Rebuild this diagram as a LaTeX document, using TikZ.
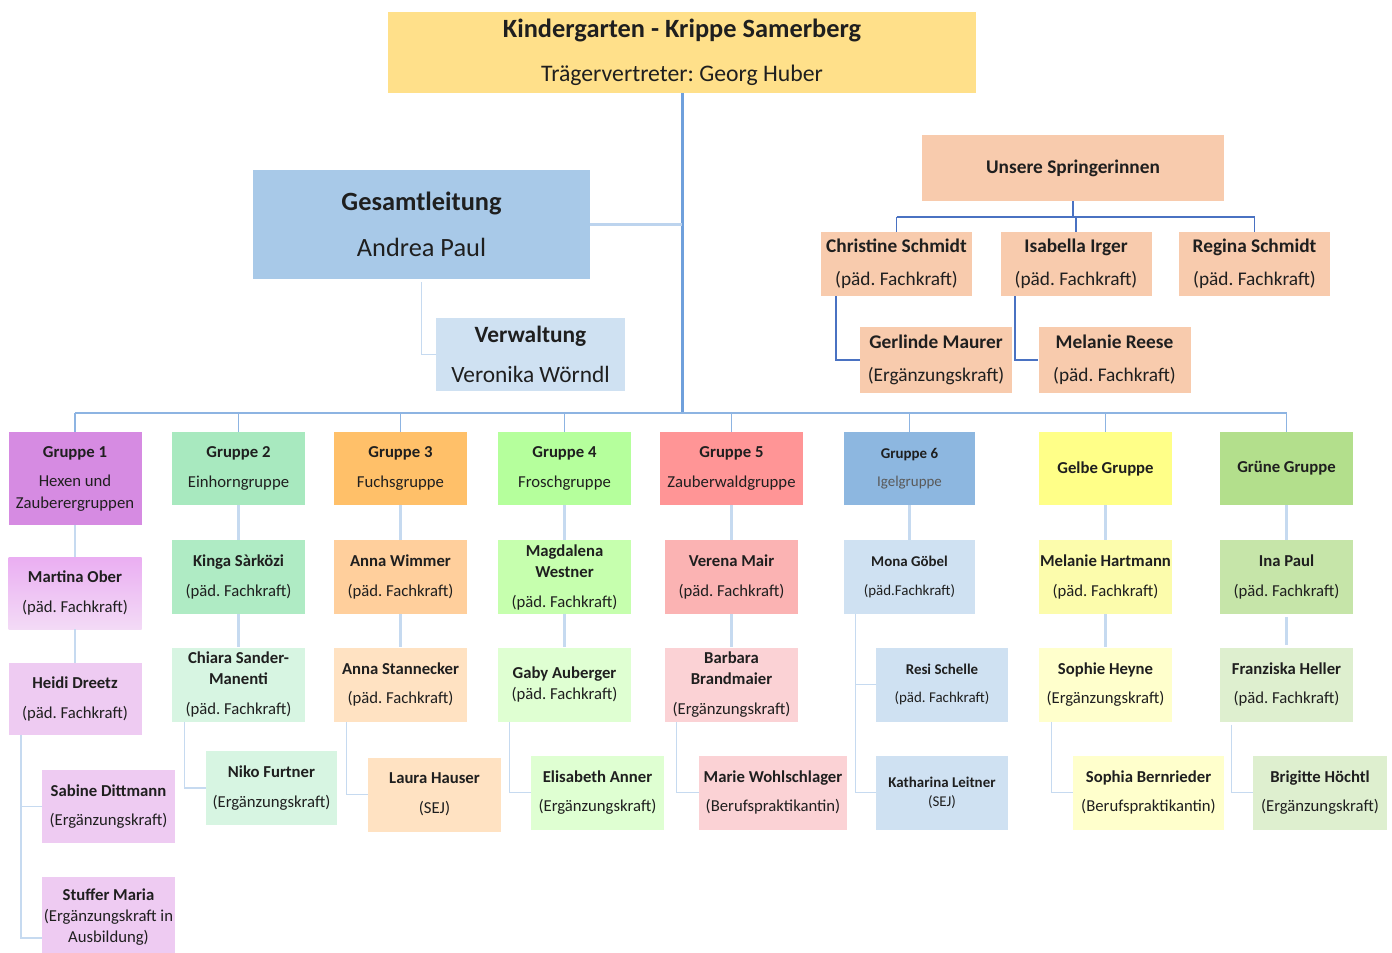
\documentclass[tikz,border=0pt]{standalone}
\usepackage{fontspec}
\setmainfont{Carlito}
\usepackage{tikz}
\frenchspacing

\definecolor{traegerfill}{HTML}{FFE08A}
\definecolor{leitfill}{HTML}{A8C9E8}
\definecolor{verwfill}{HTML}{CFE1F2}
\definecolor{springfill}{HTML}{F8CBAD}
\definecolor{gAa}{HTML}{D68BE2}\definecolor{gAb}{HTML}{EAAEF2}\definecolor{gAc}{HTML}{EECBF2}
\definecolor{gBa}{HTML}{A8E9BF}\definecolor{gBb}{HTML}{AFEBC4}\definecolor{gBc}{HTML}{D7F5E2}
\definecolor{gCa}{HTML}{FFC069}\definecolor{gCb}{HTML}{FFCF9C}\definecolor{gCc}{HTML}{FFE2C2}
\definecolor{gDa}{HTML}{B5FF9C}\definecolor{gDb}{HTML}{C6FFAE}\definecolor{gDc}{HTML}{DFFFD2}
\definecolor{gEa}{HTML}{FF9596}\definecolor{gEb}{HTML}{FBB3B3}\definecolor{gEc}{HTML}{FBD2D5}
\definecolor{gFa}{HTML}{8DB7E0}\definecolor{gFb}{HTML}{CFE1F2}
\definecolor{gGa}{HTML}{FFFF88}\definecolor{gGb}{HTML}{FCFCAC}\definecolor{gGc}{HTML}{FFFFCC}
\definecolor{gHa}{HTML}{B3DF8C}\definecolor{gHb}{HTML}{C6E5A9}\definecolor{gHc}{HTML}{DEEFCF}
\definecolor{trunkblue}{HTML}{6FA0DC}
\definecolor{busblue}{HTML}{8DB4E2}
\definecolor{stemblue}{HTML}{C6DAF0}
\definecolor{jumpblue}{HTML}{4A72C2}

\tikzstyle{box}=[rectangle,inner sep=0,align=center,text=black!88]
\tikzstyle{grp}=[box,minimum width=2.66cm,minimum height=1.46cm,font=\fontsize{9.5}{17}\selectfont]
\tikzstyle{staff}=[grp,minimum height=1.48cm]
\tikzstyle{igel}=[staff,minimum width=2.64cm,fill=gFb,font=\fontsize{8.5}{16}\selectfont]
\tikzstyle{jump}=[box,minimum width=3.02cm,minimum height=1.28cm,fill=springfill,font=\fontsize{11}{19}\selectfont]
\tikzstyle{trunkline}=[draw=trunkblue,line width=1.7pt]
\tikzstyle{busline}=[draw=busblue,line width=1.1pt]
\tikzstyle{dropline}=[draw=busblue,line width=0.7pt]
\tikzstyle{leitline}=[draw=stemblue!85!busblue,line width=1.6pt]
\tikzstyle{stemline}=[draw=stemblue,line width=1.6pt,shorten <=1.5pt,shorten >=1.5pt]
\tikzstyle{elbow}=[draw=stemblue,line width=0.9pt,shorten <=1.5pt]
\tikzstyle{jumpline}=[draw=jumpblue,line width=1.1pt]

\begin{document}
\begin{tikzpicture}
\useasboundingbox (0,0) rectangle (27.84,-19.04);
\clip (0,0) rectangle (27.84,-19.04);

% Kopf
\node[box,fill=traegerfill,minimum width=11.76cm,minimum height=1.62cm,font=\fontsize{13.5}{25}\selectfont] (traeger) at (13.64,-1.05) {{\fontsize{15}{25}\selectfont\textbf{Kindergarten - Krippe Samerberg}}\\Trägervertreter: Georg Huber};
\node[box,fill=leitfill,minimum width=6.74cm,minimum height=2.18cm,font=\fontsize{15}{26.5}\selectfont] (leitung) at (8.43,-4.49) {\textbf{Gesamtleitung}\\Andrea Paul};
\node[box,fill=verwfill,minimum width=3.78cm,minimum height=1.46cm,font=\fontsize{13.3}{22.7}\selectfont] (verwaltung) at (10.61,-7.09) {\textbf{Verwaltung}\\Veronika Wörndl};
\coordinate (hub) at (13.64,-8.26);

% Springerinnen
\node[jump,minimum width=6.04cm,minimum height=1.32cm] (springer) at (21.46,-3.36) {\textbf{Unsere Springerinnen}};
\node[jump] (christine) at (17.93,-5.28) {\textbf{Christine Schmidt}\\(päd. Fachkraft)};
\node[jump] (isabella) at (21.52,-5.28) {\textbf{Isabella Irger}\\(päd. Fachkraft)};
\node[jump] (regina) at (25.09,-5.28) {\textbf{Regina Schmidt}\\(päd. Fachkraft)};
\node[jump,minimum width=3.04cm,minimum height=1.32cm] (gerlinde) at (18.72,-7.2) {\textbf{Gerlinde Maurer}\\(Ergänzungskraft)};
\node[jump,minimum width=3.04cm,minimum height=1.32cm] (mreese) at (22.29,-7.2) {\textbf{Melanie Reese}\\(päd. Fachkraft)};
\coordinate (sbus) at (21.46,-4.34);

% Gruppen
\node[grp,fill=gAa,minimum height=1.86cm] (g1) at (1.5,-9.57) {\textbf{Gruppe 1}\\Hexen und\\[-5pt]Zauberergruppen};
\node[grp,fill=gBa] (g2) at (4.77,-9.37) {\textbf{Gruppe 2}\\Einhorngruppe};
\node[grp,fill=gCa] (g3) at (8.01,-9.37) {\textbf{Gruppe 3}\\Fuchsgruppe};
\node[grp,fill=gDa] (g4) at (11.29,-9.37) {\textbf{Gruppe 4}\\Froschgruppe};
\node[grp,fill=gEa,minimum width=2.86cm] (g5) at (14.63,-9.37) {\textbf{Gruppe 5}\\Zauberwaldgruppe};
\node[grp,fill=gFa,minimum width=2.62cm,font=\fontsize{8.5}{16}\selectfont] (g6) at (18.19,-9.37) {\textbf{Gruppe 6}\\{\color{black!65}Igelgruppe}};
\node[grp,fill=gGa] (g7) at (22.11,-9.37) {\textbf{Gelbe Gruppe}};
\node[grp,fill=gHa] (g8) at (25.73,-9.37) {\textbf{Grüne Gruppe}};

% Gruppe 1
\node[staff,top color=gAb,bottom color=gAc!70!white,minimum height=1.44cm] (ober) at (1.5,-11.86) {\textbf{Martina Ober}\\(päd. Fachkraft)};
\node[staff,fill=gAc,minimum height=1.44cm] (dreetz) at (1.5,-13.98) {\textbf{Heidi Dreetz}\\(päd. Fachkraft)};
\node[staff,fill=gAc,minimum height=1.46cm] (dittmann) at (2.17,-16.13) {\textbf{Sabine Dittmann}\\(Ergänzungskraft)};
\node[staff,fill=gAc,minimum height=1.6cm] (stuffer) at (2.17,-18.34) {\textbf{Stuffer Maria}\\[-5pt](Ergänzungskraft in\\[-5pt]Ausbildung)};

% Gruppe 2
\node[staff,fill=gBb] (sarkozi) at (4.77,-11.54) {\textbf{Kinga Sàrközi}\\(päd. Fachkraft)};
\node[staff,fill=gBc] (sander) at (4.77,-13.69) {\textbf{Chiara Sander-}\\[-5pt]\textbf{Manenti}\\(päd. Fachkraft)};
\node[staff,fill=gBc,minimum width=2.62cm] (furtner) at (5.43,-15.76) {\textbf{Niko Furtner}\\(Ergänzungskraft)};

% Gruppe 3
\node[staff,fill=gCb] (wimmer) at (8.01,-11.54) {\textbf{Anna Wimmer}\\(päd. Fachkraft)};
\node[staff,fill=gCc] (stannecker) at (8.01,-13.69) {\textbf{Anna Stannecker}\\(päd. Fachkraft)};
\node[staff,fill=gCc] (hauser) at (8.69,-15.89) {\textbf{Laura Hauser}\\(SEJ)};

% Gruppe 4
\node[staff,fill=gDb] (westner) at (11.29,-11.54) {\textbf{Magdalena}\\[-5pt]\textbf{Westner}\\(päd. Fachkraft)};
\node[staff,fill=gDc] (auberger) at (11.29,-13.69) {\textbf{Gaby Auberger}\\[-5pt](päd. Fachkraft)};
\node[staff,fill=gDc] (anner) at (11.95,-15.85) {\textbf{Elisabeth Anner}\\(Ergänzungskraft)};

% Gruppe 5
\node[staff,fill=gEb] (mair) at (14.63,-11.54) {\textbf{Verena Mair}\\(päd. Fachkraft)};
\node[staff,fill=gEc] (brandmaier) at (14.63,-13.69) {\textbf{Barbara}\\[-5pt]\textbf{Brandmaier}\\(Ergänzungskraft)};
\node[staff,fill=gEc,minimum width=2.96cm] (wohlschlager) at (15.46,-15.85) {\textbf{Marie Wohlschlager}\\(Berufspraktikantin)};

% Gruppe 6
\node[igel,minimum width=2.62cm] (goebel) at (18.19,-11.54) {\textbf{Mona Göbel}\\(päd.Fachkraft)};
\node[igel] (schelle) at (18.84,-13.69) {\textbf{Resi Schelle}\\(päd. Fachkraft)};
\node[igel] (leitner) at (18.84,-15.85) {\textbf{Katharina Leitner}\\[-5pt](SEJ)};

% Gelbe Gruppe
\node[staff,fill=gGb] (hartmann) at (22.11,-11.54) {\textbf{Melanie Hartmann}\\(päd. Fachkraft)};
\node[staff,fill=gGc] (heyne) at (22.11,-13.69) {\textbf{Sophie Heyne}\\(Ergänzungskraft)};
\node[staff,fill=gGc,minimum width=3.02cm] (bernrieder) at (22.97,-15.85) {\textbf{Sophia Bernrieder}\\(Berufspraktikantin)};

% Gruene Gruppe
\node[staff,fill=gHb] (ipaul) at (25.73,-11.54) {\textbf{Ina Paul}\\(päd. Fachkraft)};
\node[staff,fill=gHc] (heller) at (25.73,-13.69) {\textbf{Franziska Heller}\\(päd. Fachkraft)};
\node[staff,fill=gHc,minimum width=2.68cm] (hoechtl) at (26.4,-15.85) {\textbf{Brigitte Höchtl}\\(Ergänzungskraft)};

% Linien
\draw[trunkline] (traeger.south) -- (hub);
\draw[leitline] (leitung.east) -- (leitung.east -| hub);
\draw[elbow] (leitung.south) |- (verwaltung.west);
\draw[busline] (g1.north |- hub) -- (g8.north |- hub);
\draw[dropline]
    (g1.north |- hub) -- (g1.north)
    (g2.north |- hub) -- (g2.north)
    (g3.north |- hub) -- (g3.north)
    (g4.north |- hub) -- (g4.north)
    (g5.north |- hub) -- (g5.north)
    (g6.north |- hub) -- (g6.north)
    (g7.north |- hub) -- (g7.north)
    (g8.north |- hub) -- (g8.north);

\draw[jumpline]
    (springer.south) -- (springer.south |- sbus)
    (christine.north |- sbus) -- (regina.north |- sbus)
    (christine.north |- sbus) -- (christine.north)
    (isabella.north |- sbus) -- (isabella.north)
    (regina.north |- sbus) -- (regina.north)
    ([xshift=0.3cm]christine.south west) |- (gerlinde.west)
    ([xshift=0.3cm]isabella.south west) |- (mreese.west);

\draw[stemline]
    (g1) -- (ober)
    (ober) -- (dreetz)
    (g2) -- (sarkozi)
    (sarkozi) -- (sander)
    (g3) -- (wimmer)
    (wimmer) -- (stannecker)
    (g4) -- (westner)
    (westner) -- (auberger)
    (g5) -- (mair)
    (mair) -- (brandmaier)
    (g6) -- (goebel)
    (g7) -- (hartmann)
    (hartmann) -- (heyne)
    (g8) -- (ipaul)
    (ipaul) -- (heller);

\draw[elbow]
    ([xshift=0.26cm]dreetz.south west) |- (dittmann.west)
    ([xshift=0.26cm]dreetz.south west) |- ([yshift=-0.42cm]stuffer.west)
    ([xshift=0.26cm]sander.south west) |- (furtner.west)
    ([xshift=0.26cm]stannecker.south west) |- (hauser.west)
    ([xshift=0.24cm]auberger.south west) |- (anner.west)
    ([xshift=0.24cm]brandmaier.south west) |- (wohlschlager.west)
    ([xshift=0.24cm]goebel.south west) |- (schelle.west)
    ([xshift=0.24cm]goebel.south west) |- (leitner.west)
    ([xshift=0.26cm]heyne.south west) |- (bernrieder.west)
    ([xshift=0.24cm]heller.south west) |- (hoechtl.west);

\end{tikzpicture}
\end{document}
